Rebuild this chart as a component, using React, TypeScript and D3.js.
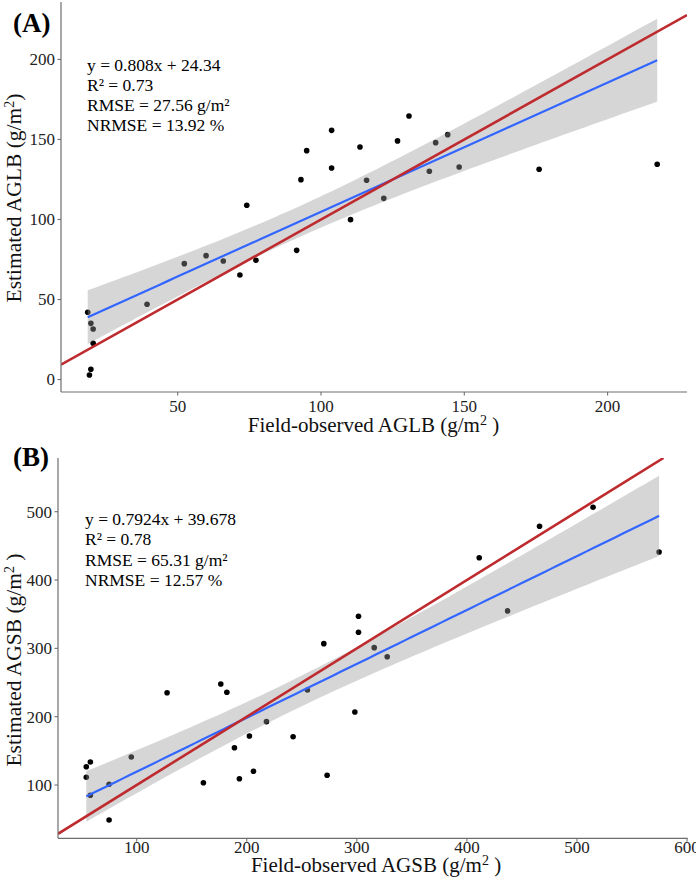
import React from 'react';
import * as d3 from 'd3';

// Panel A: above-ground leaf biomass
const aglbObserved = [18.6, 19.7, 20.5, 20.5, 19.7, 19.2, 39.3, 52.3, 59.9, 65.9, 71.7, 74.1, 77.3, 91.5, 93.0, 95.0, 103.7, 103.7, 113.6, 110.3, 115.9, 121.9, 126.7, 130.7, 137.8, 140.0, 144.2, 148.2, 176.1, 217.3];
const aglbEstimated = [42.0, 35.1, 31.6, 22.6, 6.4, 2.8, 47.0, 72.4, 77.4, 74.1, 65.3, 108.9, 74.5, 80.7, 124.9, 143.0, 155.7, 132.2, 145.3, 99.9, 124.5, 113.2, 149.1, 164.7, 130.1, 148.0, 153.0, 132.8, 131.4, 134.5];
const aglbXTicks = [50, 100, 150, 200];
const aglbYTicks = [0, 50, 100, 150, 200];
const aglbStats = ['y = 0.808x + 24.34', 'R² = 0.73', 'RMSE = 27.56 g/m²', 'NRMSE = 13.92 %'];

// Panel B: above-ground stem biomass
const agsbObserved = [54.2, 54.2, 57.9, 57.9, 74.9, 74.9, 95.1, 127.6, 160.6, 176.4, 181.9, 188.8, 193.3, 202.4, 206.1, 217.9, 242.1, 255.1, 270.0, 273.0, 301.5, 301.5, 315.8, 327.6, 298.2, 437.0, 411.2, 466.0, 514.6, 574.6];
const agsbEstimated = [126.8, 111.3, 133.7, 84.9, 101.0, 48.8, 141.0, 235.1, 103.4, 247.9, 235.7, 154.6, 109.2, 171.7, 120.1, 192.7, 170.7, 239.1, 306.9, 114.2, 347.0, 323.6, 301.0, 287.8, 206.9, 354.8, 432.7, 478.8, 506.6, 441.1];
const agsbXTicks = [100, 200, 300, 400, 500, 600];
const agsbYTicks = [100, 200, 300, 400, 500];
const agsbStats = ['y = 0.7924x + 39.678', 'R² = 0.78', 'RMSE = 65.31 g/m²', 'NRMSE = 12.57 %'];

const T975 = 2.048; // t quantile, df = 28

const FONT = '"Liberation Serif", "Times New Roman", serif';

function fitLm(xs: number[], ys: number[]) {
  const n = xs.length;
  const xbar = d3.mean(xs)!;
  const ybar = d3.mean(ys)!;
  let sxx = 0, sxy = 0;
  xs.forEach((x, i) => { sxx += (x - xbar) ** 2; sxy += (x - xbar) * (ys[i] - ybar); });
  const b = sxy / sxx;
  const a = ybar - b * xbar;
  let sse = 0;
  xs.forEach((x, i) => { sse += (ys[i] - (a + b * x)) ** 2; });
  const s = Math.sqrt(sse / (n - 2));
  const [x0, x1] = d3.extent(xs) as [number, number];
  const grid = d3.range(80).map(i => x0 + (x1 - x0) * i / 79);
  return grid.map(x => {
    const fit = a + b * x;
    const se = s * Math.sqrt(1 / n + (x - xbar) ** 2 / sxx);
    return { x, fit, lo: fit - T975 * se, hi: fit + T975 * se };
  });
}

type PanelProps = {
  id: string;
  tag: string;
  tagY: number;
  xs: number[];
  ys: number[];
  xTicks: number[];
  yTicks: number[];
  xDomain: [number, number];
  yDomain: [number, number];
  left: number; right: number; top: number; bottom: number;
  tickLabelOffset: number;
  stats: string[];
  statsX: number; statsY: number;
  xTitle: string; yTitle: string; yTitleSpace: boolean;
  xTitleX: number; xTitleY: number; yTitleCenter: number;
};

function Panel(p: PanelProps) {
  const x = d3.scaleLinear().domain(p.xDomain).range([p.left, p.right]);
  const y = d3.scaleLinear().domain(p.yDomain).range([p.bottom, p.top]);
  const pred = fitLm(p.xs, p.ys);
  const area = d3.area<any>().x(d => x(d.x)).y0(d => y(d.lo)).y1(d => y(d.hi));
  const line = d3.line<any>().x(d => x(d.x)).y(d => y(d.fit));
  const hi = Math.min(p.xDomain[1], p.yDomain[1]);
  const axisColor = '#6e6e6e';
  const clipId = 'clip-' + p.id;
  return (
    <g>
      <defs>
        <clipPath id={clipId}>
          <rect x={p.left} y={p.top} width={p.right - p.left} height={p.bottom - p.top} />
        </clipPath>
      </defs>
      {p.xs.map((v, i) => (
        <circle key={i} cx={x(v)} cy={y(p.ys[i])} r={2.8} fill="#000" />
      ))}
      <path d={area(pred)!} fill="#999999" fillOpacity={0.4} />
      <path d={line(pred)!} fill="none" stroke="#3366FF" strokeWidth={2.2} />
      <line x1={x(p.xDomain[0])} y1={y(p.xDomain[0])} x2={x(hi)} y2={y(hi)} stroke="#BE2A2E" strokeWidth={2.6} clipPath={`url(#${clipId})`} />
      {/* axes */}
      <line x1={p.left} y1={p.top} x2={p.left} y2={p.bottom} stroke={axisColor} strokeWidth={1.2} />
      <line x1={p.left} y1={p.bottom} x2={p.right} y2={p.bottom} stroke={axisColor} strokeWidth={1.2} />
      {p.yTicks.map(t => (
        <g key={'y' + t}>
          <line x1={p.left - 3.5} x2={p.left} y1={y(t)} y2={y(t)} stroke={axisColor} strokeWidth={1.1} />
          <text x={p.left - 6} y={y(t)} dy="0.35em" textAnchor="end" fontSize={17} fill="#222" fontFamily={FONT}>{t}</text>
        </g>
      ))}
      {p.xTicks.map(t => (
        <g key={'x' + t}>
          <line x1={x(t)} x2={x(t)} y1={p.bottom} y2={p.bottom + 3.5} stroke={axisColor} strokeWidth={1.1} />
          <text x={x(t)} y={p.bottom + p.tickLabelOffset} textAnchor="middle" fontSize={17} fill="#222" fontFamily={FONT}>{t}</text>
        </g>
      ))}
      <text x={p.xTitleX} y={p.xTitleY} textAnchor="middle" fontSize={21} fill="#111" fontFamily={FONT}>
        {p.xTitle + ' (g/m'}<tspan fontSize={14} dy={-7}>2</tspan><tspan dy={7}>{' )'}</tspan>
      </text>
      <text transform={`translate(21,${p.yTitleCenter}) rotate(-90)`} textAnchor="middle" fontSize={21.5} fill="#111" fontFamily={FONT}>
        {p.yTitle + ' (g/m'}<tspan fontSize={14} dy={-7}>2</tspan><tspan dy={7}>{p.yTitleSpace ? ' )' : ')'}</tspan>
      </text>
      <text x={13} y={p.tagY} fontSize={27} fontWeight="bold" fill="#000" fontFamily={FONT}>{p.tag}</text>
      {p.stats.map((s, i) => (
        <text key={s} x={p.statsX} y={p.statsY + i * 20.3} fontSize={17.5} fill="#000" fontFamily={FONT}>{s}</text>
      ))}
    </g>
  );
}

export default function App() {
  return (
    <svg width={696} height={884} style={{ position: 'absolute', left: 0, top: 0, background: '#fff' }}>
      <rect width={696} height={884} fill="#fff" />
      <Panel id="a" tag="(A)" tagY={31.5}
        xs={aglbObserved} ys={aglbEstimated} xTicks={aglbXTicks} yTicks={aglbYTicks}
        xDomain={[9.28, 227.7]} yDomain={[-7.8, 235.9]}
        left={61} right={687} top={2} bottom={392} tickLabelOffset={19.5}
        stats={aglbStats} statsX={87} statsY={70.5}
        xTitle="Field-observed AGLB" yTitle="Estimated AGLB" yTitleSpace={false}
        xTitleX={373.5} xTitleY={432} yTitleCenter={198} />
      <Panel id="b" tag="(B)" tagY={466}
        xs={agsbObserved} ys={agsbEstimated} xTicks={agsbXTicks} yTicks={agsbYTicks}
        xDomain={[28.5, 600.6]} yDomain={[22.0, 578.6]}
        left={58} right={687.7} top={458} bottom={838.3} tickLabelOffset={15}
        stats={agsbStats} statsX={85} statsY={525}
        xTitle="Field-observed AGSB" yTitle="Estimated AGSB" yTitleSpace={true}
        xTitleX={376} xTitleY={872} yTitleCenter={660} />
    </svg>
  );
}
